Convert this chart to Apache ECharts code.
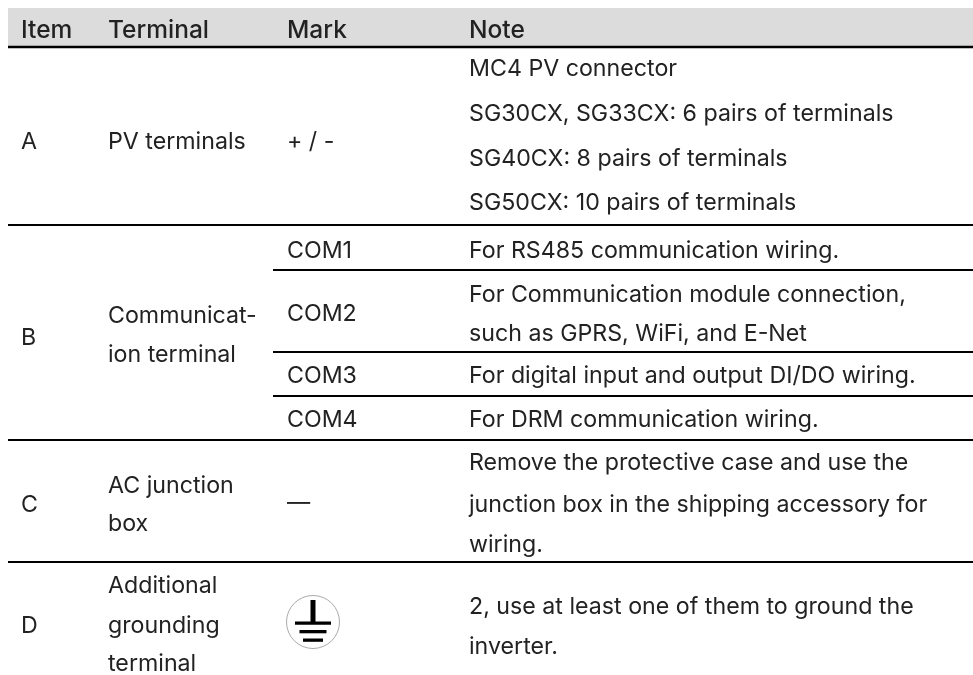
<!DOCTYPE html>
<html>
<head>
<meta charset="utf-8">
<style>html,body{margin:0;padding:0;background:#fff}#c{width:973px;height:675px}</style>
<script src="https://cdn.jsdelivr.net/npm/echarts@6/dist/echarts.min.js"></script>
</head>
<body>
<div id="c"></div>
<script>
var headers = ["Item", "Terminal", "Mark", "Note"];
var items = ["A", "B", "C", "D"];
var terminals = [["PV terminals"], ["Communicat-", "ion terminal"], ["AC junction", "box"], ["Additional", "grounding", "terminal"]];
var marks = ["+ / -", "COM1", "COM2", "COM3", "COM4", "—"];
var notes = [
  "MC4 PV connector",
  "SG30CX, SG33CX: 6 pairs of terminals",
  "SG40CX: 8 pairs of terminals",
  "SG50CX: 10 pairs of terminals",
  "For RS485 communication wiring.",
  "For Communication module connection,",
  "such as GPRS, WiFi, and E-Net",
  "For digital input and output DI/DO wiring.",
  "For DRM communication wiring.",
  "Remove the protective case and use the",
  "junction box in the shipping accessory for",
  "wiring.",
  "2, use at least one of them to ground the",
  "inverter."
];

// layout (separate from the content above)
var FONT = 'Inter';
var SIZE = 23.2;
var HEADSIZE = 24.5;
var colX = [21, 108, 287, 469];
var headerY = 31, itemY = [142, 338, 505, 626];
var termY = [[142], [316, 355], [486, 524], [586, 626, 664]];
var markY = [142, 251, 314, 376, 420, 503];
var noteY = [69, 114, 159, 203, 251, 295, 334, 376, 420, 463, 505, 545, 607, 647];
var thick = [[8, 973, 47, 2.5], [8, 973, 225, 2], [8, 973, 440, 2], [8, 973, 562, 2]];
var thin = [[273, 973, 270, 2], [273, 973, 352, 2], [273, 973, 396, 2]];

var textData = [];
function t(x, y, s, head) { textData.push([x, y, s, head]); }
headers.forEach(function (h, i) { t(colX[i], headerY, h, 1); });
items.forEach(function (s, i) { t(colX[0], itemY[i], s, 0); });
terminals.forEach(function (ls, i) { ls.forEach(function (s, j) { t(colX[1], termY[i][j], s, 0); }); });
marks.forEach(function (s, i) { t(colX[2], markY[i], s, 0); });
notes.forEach(function (s, i) { t(colX[3], noteY[i], s, 0); });

var ruleData = thick.concat(thin);

var chart = echarts.init(document.getElementById('c'), null, { renderer: 'canvas' });
chart.setOption({
  animation: false,
  backgroundColor: '#fff',
  grid: { left: 0, right: 0, top: 0, bottom: 0 },
  xAxis: { type: 'value', min: 0, max: 973, show: false },
  yAxis: { type: 'value', min: 0, max: 675, inverse: true, show: false },
  series: [
    {
      type: 'custom', silent: true, coordinateSystem: 'cartesian2d',
      data: [[8, 973, 8, 46]],
      renderItem: function (p, api) {
        var a = api.coord([api.value(0), api.value(2)]);
        var b = api.coord([api.value(1), api.value(3)]);
        return { type: 'rect', shape: { x: a[0], y: a[1], width: b[0] - a[0], height: b[1] - a[1] }, style: { fill: '#dcdcdc' } };
      }
    },
    {
      type: 'custom', silent: true, coordinateSystem: 'cartesian2d',
      data: ruleData,
      renderItem: function (p, api) {
        var a = api.coord([api.value(0), api.value(2)]);
        var b = api.coord([api.value(1), api.value(2)]);
        var w = api.value(3);
        return { type: 'rect', shape: { x: a[0], y: a[1] - w / 2, width: b[0] - a[0], height: w }, style: { fill: '#000' } };
      }
    },
    {
      type: 'custom', silent: true, coordinateSystem: 'cartesian2d',
      data: [[313, 622]],
      renderItem: function (p, api) {
        var c = api.coord([api.value(0), api.value(1)]);
        var x = c[0], y = c[1];
        function bar(x0, y0, w, h) { return { type: 'rect', shape: { x: x + x0, y: y + y0, width: w, height: h }, style: { fill: '#000' } }; }
        return { type: 'group', children: [
          { type: 'circle', shape: { cx: x, cy: y, r: 26.5 }, style: { fill: '#fff', stroke: '#aaa', lineWidth: 1 } },
          bar(-2.5, -22, 5, 23), bar(-18, -0.5, 36, 3.3), bar(-13.5, 8, 27, 3.3), bar(-10, 16.5, 20, 3.3)
        ] };
      }
    },
    {
      type: 'custom', silent: true, coordinateSystem: 'cartesian2d',
      data: textData,
      encode: { x: 0, y: 1 },
      renderItem: function (p, api) {
        var d = textData[p.dataIndex];
        var c = api.coord([d[0], d[1]]);
        var font = d[3] ? '500 ' + HEADSIZE + 'px ' + FONT : '400 ' + SIZE + 'px ' + FONT;
        return { type: 'text', x: c[0], y: c[1], style: { text: d[2], fill: '#222', font: font, textAlign: 'left', textVerticalAlign: 'middle' } };
      }
    }
  ]
});
</script>
</body>
</html>
